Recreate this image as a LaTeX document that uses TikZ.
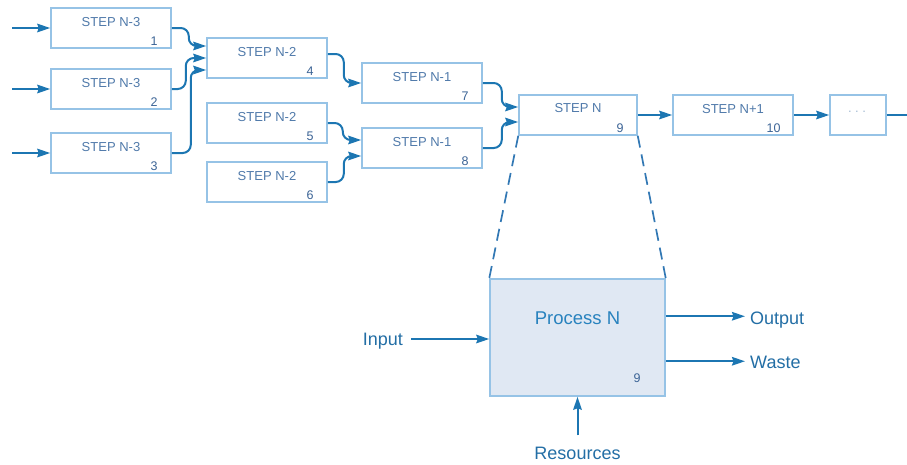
\documentclass[tikz,border=0pt]{standalone}
\usepackage{fontspec}
\setmainfont{Liberation Sans}
\usetikzlibrary{arrows.meta,calc}
\definecolor{boxline}{RGB}{150,195,230}
\definecolor{arrowc}{RGB}{28,118,178}
\definecolor{steptxt}{RGB}{80,122,170}
\definecolor{numtxt}{RGB}{60,100,150}
\definecolor{proctxt}{RGB}{40,130,190}
\definecolor{lbltxt}{RGB}{35,110,165}
\definecolor{procfill}{RGB}{224,232,243}
\definecolor{dashc}{RGB}{50,120,180}
\definecolor{dotc}{RGB}{165,188,212}
\begin{document}
\begin{tikzpicture}[x=1pt,y=-1pt,
  stepbox/.style={draw=boxline, line width=1.5pt, fill=white, minimum width=120pt, minimum height=40pt, inner sep=0pt},
  steptitle/.style={text=steptxt, font=\fontsize{13}{15}\selectfont, inner sep=0pt, anchor=base},
  stepnum/.style={text=numtxt, font=\fontsize{12.5}{15}\selectfont, inner sep=0pt, anchor=base east},
  arr/.style={draw=arrowc, line width=2pt, -{Stealth[length=13pt,width=8.5pt,inset=1.5pt]}},
  link/.style={arr, rounded corners=8pt},
  procbox/.style={draw=boxline, line width=1.5pt, fill=procfill, minimum width=175pt, minimum height=117pt, inner sep=0pt},
  proctitle/.style={text=proctxt, font=\fontsize{18.5}{22}\selectfont, inner sep=0pt, anchor=base},
  lbl/.style={text=lbltxt, font=\fontsize{18}{22}\selectfont, inner sep=0pt},
  dashl/.style={draw=dashc, line width=1.7pt, dash pattern=on 12pt off 7pt},
  dotstxt/.style={text=dotc, font=\fontsize{13}{15}\selectfont, inner sep=0pt, anchor=base}
]
\useasboundingbox (0,0) rectangle (907,464);

% boxes
\node[stepbox] (b1) at (111,28) {};
\node[stepbox] (b2) at (111,89) {};
\node[stepbox] (b3) at (111,153) {};
\node[stepbox] (b4) at (267,58) {};
\node[stepbox] (b5) at (267,123) {};
\node[stepbox] (b6) at (267,182) {};
\node[stepbox] (b7) at (422,83) {};
\node[stepbox] (b8) at (422,148) {};
\node[stepbox, minimum width=118pt] (b9) at (578,115) {};
\node[stepbox] (b10) at (733,115) {};
\node[stepbox, minimum width=56pt] (b11) at (858,115) {};

% titles
\node[steptitle] (t1) at ($(b1.north)+(0,19)$) {STEP N-3};
\node[steptitle] (t2) at ($(b2.north)+(0,19)$) {STEP N-3};
\node[steptitle] (t3) at ($(b3.north)+(0,19)$) {STEP N-3};
\node[steptitle] (t4) at ($(b4.north)+(0,19)$) {STEP N-2};
\node[steptitle] (t5) at ($(b5.north)+(0,19)$) {STEP N-2};
\node[steptitle] (t6) at ($(b6.north)+(0,19)$) {STEP N-2};
\node[steptitle] (t7) at ($(b7.north)+(0,19)$) {STEP N-1};
\node[steptitle] (t8) at ($(b8.north)+(0,19)$) {STEP N-1};
\node[steptitle] (t9) at ($(b9.north)+(0,18.5)$) {STEP N};
\node[steptitle] (t10) at ($(b10.north)+(0,19)$) {STEP N+1};
\node[dotstxt] (t11) at ($(b11.center)+(-1,-3)$) {.\kern3.5pt.\kern3.5pt.};

% numbers
\node[stepnum] (n1) at ($(b1.south east)+(-14,-3)$) {1};
\node[stepnum] (n2) at ($(b2.south east)+(-14,-3)$) {2};
\node[stepnum] (n3) at ($(b3.south east)+(-14,-3)$) {3};
\node[stepnum] (n4) at ($(b4.south east)+(-14,-3)$) {4};
\node[stepnum] (n5) at ($(b5.south east)+(-14,-3)$) {5};
\node[stepnum] (n6) at ($(b6.south east)+(-14,-3)$) {6};
\node[stepnum] (n7) at ($(b7.south east)+(-14,-3)$) {7};
\node[stepnum] (n8) at ($(b8.south east)+(-14,-3)$) {8};
\node[stepnum] (n9) at ($(b9.south east)+(-14,-3)$) {9};
\node[stepnum] (n10) at ($(b10.south east)+(-13,-3)$) {10};

% free ends and entry points
\coordinate (s1) at (12,28);
\coordinate (s2) at (12,89);
\coordinate (s3) at (12,153);
\coordinate (edge) at (907,115);
\coordinate (b4a) at ($(b4.west)+(0,-12)$);
\coordinate (b4b) at (b4.west);
\coordinate (b4c) at ($(b4.west)+(0,12)$);
\coordinate (b4o) at ($(b4.east)+(0,-4)$);
\coordinate (b8a) at ($(b8.west)+(0,-8)$);
\coordinate (b8b) at ($(b8.west)+(0,8)$);
\coordinate (b9a) at ($(b9.west)+(0,-8)$);
\coordinate (b9b) at ($(b9.west)+(0,7)$);

% connectors
\draw[arr] (s1) -- (b1.west);
\draw[arr] (s2) -- (b2.west);
\draw[arr] (s3) -- (b3.west);
\draw[link] (b1.east) -- ++(17,0) |- (b4a);
\draw[link] (b2.east) -- ++(14,0) |- (b4b);
\draw[link] (b3.east) -- ++(19,0) |- (b4c);
\draw[link] (b4o) -- ++(16,0) |- (b7.west);
\draw[link] (b5.east) -- ++(15,0) |- (b8a);
\draw[link] (b6.east) -- ++(16,0) |- (b8b);
\draw[link] (b7.east) -- ++(19,0) |- (b9a);
\draw[link] (b8.east) -- ++(19,0) |- (b9b);
\draw[arr] (b9.east) -- (b10.west);
\draw[arr] (b10.east) -- (b11.west);
\draw[draw=arrowc, line width=2pt] (b11.east) -- (edge);

% process detail
\node[procbox] (p) at (577.5,337.5) {};
\node[proctitle] (pt) at ($(p.north)+(0,46)$) {Process N};
\node[stepnum] (pn) at ($(p.south east)+(-25,-14)$) {9};
\draw[dashl] (b9.south west) -- (p.north west);
\draw[dashl] (b9.south east) -- (p.north east);

\node[lbl, anchor=base east] (inp) at (403,345) {Input};
\node[lbl, anchor=base west] (out) at (750,324) {Output};
\node[lbl, anchor=base west] (waste) at (750,368) {Waste};
\node[lbl, anchor=base] (res) at (577.5,459) {Resources};

\coordinate (pin) at ($(p.west)+(0,1.5)$);
\coordinate (pout) at ($(p.north east)+(0,38)$);
\coordinate (pwaste) at ($(p.north east)+(0,83)$);
\draw[arr] ($(inp.east |- pin)+(8,0)$) -- (pin);
\draw[arr] (pout) -- ($(pout -| out.west)+(-5,0)$);
\draw[arr] (pwaste) -- ($(pwaste -| waste.west)+(-5,0)$);
\draw[arr] ($(res.north)+(0,-11)$) -- (p.south);
\end{tikzpicture}
\end{document}
